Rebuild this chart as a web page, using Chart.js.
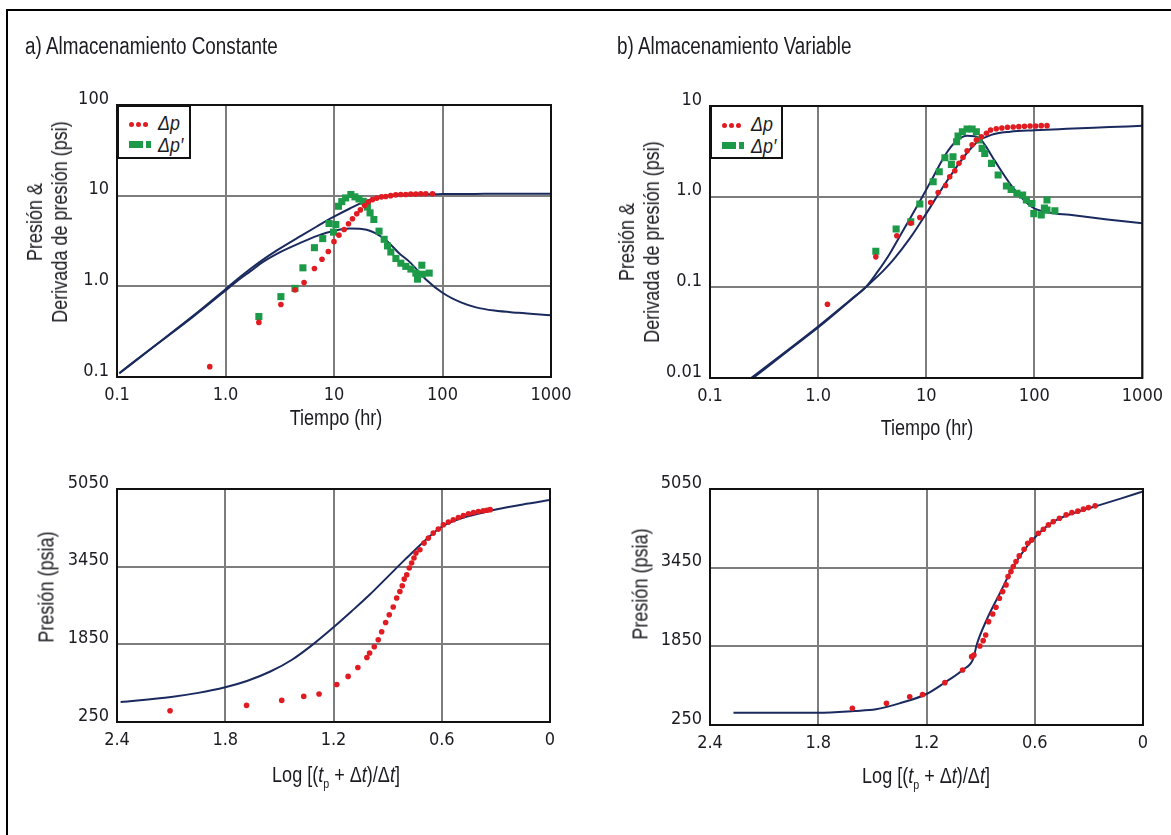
<!DOCTYPE html>
<html lang="es">
<head>
<meta charset="utf-8">
<title>Almacenamiento constante y variable</title>
<script src="https://cdn.jsdelivr.net/npm/chart.js@4.4.1/dist/chart.umd.min.js"></script>
<style>
  html, body { margin: 0; padding: 0; background: #fff; }
  body { width: 1171px; height: 835px; position: relative; overflow: hidden;
         font-family: "Liberation Sans", Arial, sans-serif; color: #1b1b22; }
  canvas { position: absolute; left: 0; top: 0; }
  .marco { position: absolute; left: 6px; top: 9px; width: 1200px; height: 900px;
           border-left: 2px solid #000; border-top: 2px solid #000; }
  .txt { position: absolute; white-space: nowrap; line-height: 1; }
  .titulo { font-size: 23px; transform: scaleX(0.82); transform-origin: left center; }
  .eje { font-size: 22px; transform: translate(-50%, -50%) scaleX(0.82); text-align: center; }
  .ejev { font-size: 22px; transform: translate(-50%, -50%) rotate(-90deg) scaleX(0.82); text-align: center; line-height: 25px; }
  .leyenda { position: absolute; border: 2px solid #111; background: #fff; box-sizing: border-box; }
  .leyenda .et { position: absolute; left: 39px; font-size: 21px; font-style: italic; line-height: 1;
                 transform: scaleX(0.85); transform-origin: left center; }
  .punto { position: absolute; width: 5px; height: 5px; border-radius: 50%; background: #e01b22; }
  .verde { position: absolute; height: 7px; background: #1c9a48; }
</style>
</head>
<body>
<div class="marco"></div>
<canvas id="cA" width="1171" height="835"></canvas>
<canvas id="cB" width="1171" height="835"></canvas>
<canvas id="cC" width="1171" height="835"></canvas>
<canvas id="cD" width="1171" height="835"></canvas>

<div class="txt titulo" style="left:25px; top:35px;">a) Almacenamiento Constante</div>
<div class="txt titulo" style="left:617px; top:35px;">b) Almacenamiento Variable</div>

<div class="txt ejev" style="left:47px; top:222px;">Presión &amp;<br>Derivada de presión (psi)</div>
<div class="txt ejev" style="left:639px; top:242px;">Presión &amp;<br>Derivada de presión (psi)</div>
<div class="txt eje" style="left:336px; top:418px;">Tiempo (hr)</div>
<div class="txt eje" style="left:927px; top:428px;">Tiempo (hr)</div>
<div class="txt ejev" style="left:46px; top:587px;">Presión (psia)</div>
<div class="txt ejev" style="left:640px; top:584px;">Presión (psia)</div>
<div class="txt eje" style="left:336px; top:777px;">Log [(<i>t</i><sub style="font-size:13px">p</sub> + Δ<i>t</i>)/Δ<i>t</i>]</div>
<div class="txt eje" style="left:926px; top:778px;">Log [(<i>t</i><sub style="font-size:13px">p</sub> + Δ<i>t</i>)/Δ<i>t</i>]</div>

<div class="leyenda" style="left:117px; top:105px; width:74px; height:54px;">
  <span class="punto" style="left:10px; top:15px"></span><span class="punto" style="left:17px; top:15px"></span><span class="punto" style="left:24px; top:15px"></span>
  <span class="et" style="top:5px">Δp</span>
  <span class="verde" style="left:10px; top:34px; width:14px"></span><span class="verde" style="left:27px; top:34px; width:5px"></span>
  <span class="et" style="top:27px">Δp′</span>
</div>
<div class="leyenda" style="left:710px; top:105px; width:73px; height:54px;">
  <span class="punto" style="left:10px; top:16px"></span><span class="punto" style="left:17px; top:16px"></span><span class="punto" style="left:24px; top:16px"></span>
  <span class="et" style="top:6px">Δp</span>
  <span class="verde" style="left:10px; top:35px; width:14px"></span><span class="verde" style="left:27px; top:35px; width:5px"></span>
  <span class="et" style="top:28px">Δp′</span>
</div>

<script>
// ---- Ejes: valores de marcas y etiquetas ----
const ticksTiempo = [0.1, 1, 10, 100, 1000];
const etiquetasTiempo = ['0.1', '1.0', '10', '100', '1000'];
const ticksPresionA = [0.1, 1, 10, 100];
const etiquetasPresionA = ['0.1', '1.0', '10', '100'];
const ticksPresionB = [0.01, 0.1, 1, 10];
const etiquetasPresionB = ['0.01', '0.1', '1.0', '10'];
const ticksHorner = [0, 0.6, 1.2, 1.8, 2.4];
const etiquetasHorner = ['0', '0.6', '1.2', '1.8', '2.4'];
const ticksPsia = [250, 1850, 3450, 5050];
const etiquetasPsia = ['250', '1850', '3450', '5050'];

// ---- a) Almacenamiento constante: datos de campo ----
const tA_dp = [0.716, 2.03, 3.24, 4.37, 5.3, 6.6, 7.75, 8.86, 10.0, 11.1, 12.4, 13.6, 14.8, 16.2, 17.5, 19.1, 20.7, 22.6, 24.8, 27.4, 30.0, 33.3, 37.1, 41.2, 45.9, 51.0, 56.8, 63.1, 70.2, 80.9];
const dpA   = [0.13, 0.40, 0.63, 0.91, 1.1, 1.57, 1.99, 2.42, 3.11, 3.67, 4.24, 4.9, 5.56, 6.3, 6.97, 7.77, 8.53, 9.04, 9.4, 9.7, 9.8, 10.0, 10.2, 10.3, 10.3, 10.4, 10.4, 10.5, 10.5, 10.5];
const tA_der = [2.03, 3.24, 4.37, 5.17, 6.6, 7.87, 9.0, 9.9, 10.4, 11.0, 11.8, 12.8, 14.3, 15.6, 17.0, 18.6, 20.3, 21.5, 23.3, 26.0, 29.0, 31.1, 33.4, 37.2, 41.3, 45.9, 51.1, 56.8, 58.8, 64.5, 65.3, 75.4];
const derA   = [0.465, 0.77, 0.95, 1.6, 2.67, 3.36, 4.93, 3.96, 4.81, 7.64, 8.6, 9.44, 10.3, 9.7, 9.2, 8.66, 7.5, 6.46, 5.46, 4.06, 3.3, 2.79, 2.39, 2.03, 1.8, 1.66, 1.55, 1.4, 1.2, 1.71, 1.36, 1.4];
// modelo (curvas tipo)
const tA_mod   = [0.105, 0.2, 0.5, 1, 1.3, 1.7, 2.2, 3, 5, 7, 10, 14, 20, 30, 40, 50, 70, 100, 150, 200, 300, 500, 1000];
const modDpA   = [0.11, 0.2, 0.47, 0.93, 1.21, 1.56, 1.96, 2.51, 3.63, 4.6, 5.86, 7.22, 8.79, 9.8, 10.1, 10.25, 10.35, 10.4, 10.45, 10.45, 10.5, 10.5, 10.5];
const modDerA  = [0.11, 0.2, 0.46, 0.9, 1.16, 1.47, 1.85, 2.3, 3.05, 3.6, 4.1, 4.35, 4.2, 3.25, 2.3, 1.85, 1.2, 0.85, 0.66, 0.59, 0.54, 0.51, 0.48];

// ---- b) Almacenamiento variable: datos de campo ----
const tB_dp = [1.22, 3.42, 5.35, 7.2, 8.73, 11.0, 12.9, 15.1, 16.5, 18.4, 20.1, 21.9, 23.9, 26.6, 29.1, 32.4, 36.1, 39.4, 44.5, 50.1, 56.5, 63.8, 71.9, 81.1, 91.4, 103, 116, 131];
const dpB   = [0.065, 0.217, 0.37, 0.51, 0.59, 0.86, 1.11, 1.33, 1.66, 1.93, 2.33, 2.71, 3.21, 3.74, 4.22, 4.58, 5.0, 5.43, 5.61, 5.71, 5.82, 5.86, 5.92, 5.97, 6.01, 6.01, 6.07, 6.07];
const tB_der = [3.42, 5.27, 7.2, 8.73, 11.6, 13.2, 14.9, 17.1, 17.7, 19.1, 19.7, 21.6, 23.9, 26.6, 29.1, 30.8, 32.9, 34.8, 40.2, 46.3, 55.2, 61, 69, 78, 84.5, 95, 99, 116, 124, 131, 131, 155];
const derB   = [0.25, 0.44, 0.53, 0.83, 1.46, 1.88, 2.69, 2.27, 2.75, 4.04, 4.67, 5.2, 5.57, 5.57, 5.2, 4.22, 3.41, 3.0, 2.33, 1.73, 1.31, 1.2, 1.09, 1.04, 0.92, 0.84, 0.65, 0.63, 0.75, 0.92, 0.71, 0.70];
// modelo
const tB_modDp = [0.25, 0.5, 1, 2, 2.75, 4, 5, 7, 10, 14, 20, 25, 30, 40, 60, 100, 200, 500, 1000];
const modDpB   = [0.01, 0.019, 0.036, 0.072, 0.1, 0.152, 0.203, 0.342, 0.65, 1.23, 2.3, 3.25, 4.05, 4.8, 5.2, 5.4, 5.6, 5.85, 6.05];
const tB_modDer = [0.24, 0.5, 1, 2, 2.75, 3.5, 4.45, 5.5, 7, 9, 11.6, 14.9, 19, 24, 28, 31, 35, 43, 64, 95, 140, 212, 474, 1000];
const modDerB   = [0.01, 0.0195, 0.037, 0.073, 0.1, 0.145, 0.22, 0.34, 0.56, 0.95, 1.65, 2.85, 4.1, 4.7, 4.65, 4.4, 3.7, 2.5, 1.24, 0.77, 0.665, 0.63, 0.56, 0.51];

// ---- Gráficos de Horner ----
const hornerA_x = [2.106, 1.682, 1.487, 1.365, 1.28, 1.182, 1.119, 1.065, 1.015, 1.0, 0.974, 0.952, 0.933, 0.911, 0.891, 0.869, 0.85, 0.832, 0.819, 0.808, 0.794, 0.78, 0.767, 0.754, 0.743, 0.721, 0.698, 0.674, 0.647, 0.619, 0.591, 0.563, 0.536, 0.508, 0.48, 0.452, 0.424, 0.397, 0.37, 0.35, 0.332];
const hornerA_p = [483, 592, 695, 777, 826, 1024, 1189, 1374, 1580, 1671, 1800, 1945, 2109, 2301, 2459, 2618, 2803, 2939, 3056, 3194, 3283, 3421, 3524, 3627, 3730, 3798, 3936, 4039, 4142, 4224, 4312, 4368, 4415, 4463, 4504, 4539, 4566, 4586, 4600, 4612, 4625];
const hornerA_modX = [2.38, 2.1, 1.95, 1.8, 1.68, 1.55, 1.43, 1.31, 1.2, 1.1, 1.0, 0.9, 0.8, 0.7, 0.62, 0.58, 0.5, 0.4, 0.3, 0.15, 0];
const hornerA_modP = [662, 767, 850, 966, 1095, 1290, 1533, 1860, 2200, 2530, 2870, 3240, 3610, 3965, 4221, 4317, 4437, 4537, 4627, 4732, 4822];

const hornerB_x = [1.611, 1.422, 1.293, 1.222, 1.098, 1.0, 0.95, 0.937, 0.904, 0.886, 0.872, 0.856, 0.833, 0.815, 0.796, 0.778, 0.759, 0.748, 0.732, 0.719, 0.704, 0.686, 0.659, 0.639, 0.617, 0.58, 0.552, 0.524, 0.497, 0.463, 0.426, 0.394, 0.361, 0.33, 0.302, 0.265];
const hornerB_p = [590, 692, 826, 867, 1111, 1369, 1640, 1674, 1858, 1966, 2082, 2352, 2509, 2645, 2828, 2963, 3099, 3268, 3370, 3472, 3573, 3689, 3825, 3948, 4015, 4151, 4232, 4320, 4387, 4456, 4523, 4570, 4599, 4640, 4672, 4707];
const hornerB_modX = [2.27, 1.8, 1.6, 1.48, 1.35, 1.2, 1.1, 1.0, 0.94, 0.922, 0.867, 0.793, 0.719, 0.644, 0.576, 0.52, 0.459, 0.35, 0.237, 0.12, 0];
const hornerB_modP = [500, 500, 535, 569, 690, 881, 1110, 1369, 1606, 1878, 2387, 2930, 3472, 3880, 4151, 4330, 4456, 4600, 4727, 4860, 4998];

// ---- estilo ----
const ROJO = '#e01b22', VERDE = '#1c9a48', AZUL = '#1b2a5e', REJILLA = '#7d7d7d';
const FUENTE = '"DejaVu Sans Condensed", "Liberation Sans", sans-serif';
const W = 1171, H = 835, YW = 70, XH = 40;

const pares = (xs, ys) => xs.map((v, i) => ({ x: v, y: ys[i] }));

const puntosDp = (xs, ys) => ({ data: pares(xs, ys), showLine: false, pointStyle: 'circle', pointRadius: 2.8,
  backgroundColor: ROJO, borderWidth: 0, order: 1 });
const puntosDer = (xs, ys) => ({ data: pares(xs, ys), showLine: false, pointStyle: 'rect', pointRadius: 5,
  backgroundColor: VERDE, borderWidth: 0, order: 2 });
const curva = (xs, ys) => ({ data: pares(xs, ys), showLine: true, pointRadius: 0, borderColor: AZUL,
  borderWidth: 2, cubicInterpolationMode: 'monotone', fill: false, order: 3 });

function eje(tipo, min, max, valores, etiquetas, extra) {
  return Object.assign({
    type: tipo, min: min, max: max,
    afterBuildTicks: s => { s.ticks = valores.map(v => ({ value: v })); },
    ticks: {
      autoSkip: false, maxRotation: 0, minRotation: 0, padding: 8,
      color: '#1b1b22', font: { family: FUENTE, size: 18 },
      callback: v => { const i = valores.findIndex(u => Math.abs(u - v) < 1e-9 * Math.max(1, Math.abs(u))); return i >= 0 ? etiquetas[i] : ''; }
    },
    grid: { color: REJILLA, lineWidth: 2, drawTicks: false },
    border: { display: false }
  }, extra || {});
}

const marcoNegro = {
  id: 'marcoNegro',
  afterDraw(chart) {
    const a = chart.chartArea, ctx = chart.ctx;
    ctx.save();
    ctx.strokeStyle = '#111';
    ctx.lineWidth = 2;
    ctx.strokeRect(a.left, a.top, a.right - a.left, a.bottom - a.top);
    ctx.restore();
  }
};

function panel(id, area, ejeX, ejeY, conjuntos) {
  ejeX.afterFit = s => { s.height = XH; };
  ejeY.afterFit = s => { s.width = YW; };
  ejeY.ticks.labelOffset = -6;
  return new Chart(document.getElementById(id), {
    type: 'scatter',
    data: { datasets: conjuntos },
    options: {
      responsive: false, animation: false, devicePixelRatio: 1,
      layout: { padding: { left: area.l - YW, top: area.t, right: W - area.r, bottom: H - area.b - XH } },
      plugins: { legend: { display: false }, tooltip: { enabled: false } },
      events: [],
      scales: { x: ejeX, y: ejeY }
    },
    plugins: [marcoNegro]
  });
}

panel('cA', { l: 117, r: 551, t: 105, b: 377 },
  eje('logarithmic', 0.1, 1000, ticksTiempo, etiquetasTiempo),
  eje('logarithmic', 0.1, 100, ticksPresionA, etiquetasPresionA),
  [puntosDp(tA_dp, dpA), puntosDer(tA_der, derA), curva(tA_mod, modDpA), curva(tA_mod, modDerA)]);

panel('cB', { l: 710, r: 1143, t: 106, b: 378 },
  eje('logarithmic', 0.1, 1000, ticksTiempo, etiquetasTiempo),
  eje('logarithmic', 0.01, 10, ticksPresionB, etiquetasPresionB),
  [puntosDp(tB_dp, dpB), puntosDer(tB_der, derB), curva(tB_modDp, modDpB), curva(tB_modDer, modDerB)]);

panel('cC', { l: 117, r: 550, t: 489, b: 722 },
  eje('linear', 0, 2.4, ticksHorner, etiquetasHorner, { reverse: true }),
  eje('linear', 250, 5050, ticksPsia, etiquetasPsia),
  [puntosDp(hornerA_x, hornerA_p), curva(hornerA_modX, hornerA_modP)]);

panel('cD', { l: 710, r: 1143, t: 489, b: 725 },
  eje('linear', 0, 2.4, ticksHorner, etiquetasHorner, { reverse: true }),
  eje('linear', 250, 5050, ticksPsia, etiquetasPsia),
  [puntosDp(hornerB_x, hornerB_p), curva(hornerB_modX, hornerB_modP)]);
</script>
</body>
</html>
